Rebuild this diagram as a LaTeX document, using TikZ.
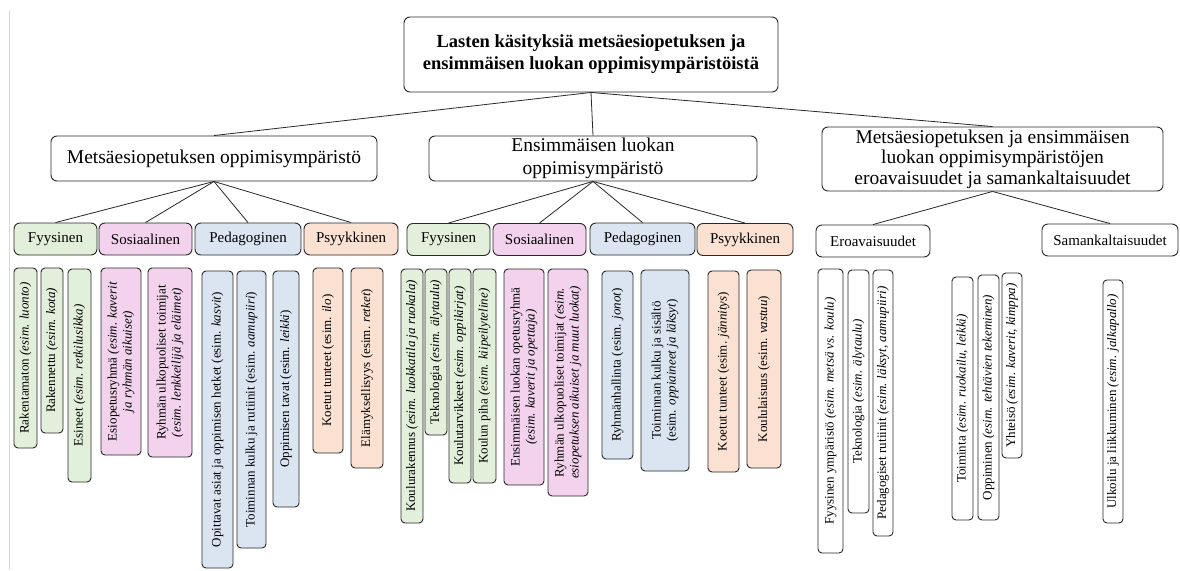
\documentclass[tikz,border=0pt]{standalone}
\usepackage{fontspec}
\setmainfont{Liberation Serif}
\definecolor{cgreen}{RGB}{226,239,218}
\definecolor{cpink}{RGB}{242,210,236}
\definecolor{cblue}{RGB}{219,229,242}
\definecolor{corange}{RGB}{251,225,210}
\definecolor{cline}{RGB}{40,40,40}
\tikzset{
  box/.style={draw=cline, rounded corners=6pt, line width=0.9pt, inner sep=1pt, fill=white},
  topbox/.style={box, minimum width=374pt, minimum height=75pt, align=center,
    font=\fontsize{18.5}{22}\selectfont\bfseries},
  lvl/.style={box, align=center, font=\fontsize{19.5}{22.5}\selectfont},
  cat/.style={box, minimum height=32pt, font=\fontsize{15}{16}\selectfont},
  vb/.style={box, rotate=90, rounded corners=4pt, align=center,
    font=\fontsize{13}{15}\selectfont},
  link/.style={draw=cline, line width=0.8pt},
}
\newcommand{\vbx}[7]{%
  \node[vb, fill=#2, minimum width={(#6-#5)*1pt}, minimum height={(#4-#3)*1pt}]
    (#1) at ({(#3+#4)/2},{(#5+#6)/2}) {#7};}
\newcommand{\catbox}[6]{%
  \node[cat, fill=#2, minimum width={(#4-#3)*1pt}] (#1) at ({(#3+#4)/2},#5) {#6};}
\begin{document}
\begin{tikzpicture}[x=1pt,y=-1pt]
\useasboundingbox[fill=white] (0,0) rectangle (1180,570);
\draw[black!15, line width=1pt] (9,10) -- (9,570);

% top
\node[topbox] (top) at (591,54.5) {Lasten käsityksiä metsäesiopetuksen ja\\ensimmäisen luokan oppimisympäristöistä};

% level 1
\node[lvl, minimum width=326pt, minimum height=45pt] (la) at (214,158.5) {Metsäesiopetuksen oppimisympäristö};
\node[lvl, minimum width=328pt, minimum height=45pt, inner sep=0pt] (lb) at (593,158.5) {Ensimmäisen luokan\\oppimisympäristö};
\node[lvl, minimum width=341pt, minimum height=64pt, inner sep=0pt, font=\fontsize{19.5}{20.5}\selectfont] (lc) at (992.5,159) {Metsäesiopetuksen ja ensimmäisen\\luokan oppimisympäristöjen\\eroavaisuudet ja samankaltaisuudet};

\draw[link] (top.south) -- (la.north);
\draw[link] (top.south) -- (lb.north);
\draw[link] (top.south) -- (lc.north);

% categories
\catbox{fa}{cgreen}{14}{97}{239}{Fyysinen}
\catbox{sa}{cpink}{99}{192}{239}{Sosiaalinen}
\catbox{pa}{cblue}{195}{301}{239}{Pedagoginen}
\catbox{ya}{corange}{304}{398}{239}{Psyykkinen}
\catbox{fb}{cgreen}{407}{490}{239.5}{Fyysinen}
\catbox{sb}{cpink}{493}{586}{239.5}{Sosiaalinen}
\catbox{pb}{cblue}{590}{695}{239}{Pedagoginen}
\catbox{yb}{corange}{697}{793}{239.5}{Psyykkinen}
\catbox{ero}{white}{816}{930}{241}{Eroavaisuudet}
\catbox{sam}{white}{1042}{1178}{240}{Samankaltaisuudet}

\foreach \n in {fa,sa,pa,ya} \draw[link] (la.south) -- (\n.north);
\foreach \n in {fb,sb,pb,yb} \draw[link] (lb.south) -- (\n.north);
\foreach \n in {ero,sam} \draw[link] (lc.south) -- (\n.north);

% vertical boxes
\vbx{a1}{cgreen}{14}{37}{268}{448}{Rakentamaton \textit{(esim. luonto)}}
\vbx{a2}{cgreen}{41}{63}{268}{433}{Rakennettu \textit{(esim. kota)}}
\vbx{a3}{cgreen}{68}{91}{269}{482}{Esineet \textit{(esim. retkilusikka)}}
\vbx{a4}{cpink}{101}{141}{268}{455}{Esiopetusryhmä \textit{(esim. kaverit}\\\textit{ja ryhmän aikuiset)}}
\vbx{a5}{cpink}{148}{192}{268}{457}{Ryhmän ulkopuoliset toimijat\\\textit{(esim. lenkkeilijä ja eläimet)}}
\vbx{a6}{cblue}{202}{233}{271}{568}{Opittavat asiat ja oppimisen hetket (esim. \textit{kasvit})}
\vbx{a7}{cblue}{237}{266}{271}{548}{Toiminnan kulku ja rutiinit (esim. \textit{aamupiiri})}
\vbx{a8}{cblue}{273}{299}{271}{507}{Oppimisen tavat (esim. \textit{leikki})}
\vbx{a9}{corange}{313}{343}{268}{453}{Koetut tunteet (esim. \textit{ilo})}
\vbx{a10}{corange}{351}{383}{268}{468}{Elämyksellisyys (esim. \textit{retket})}

\vbx{b1}{cgreen}{401}{423}{269}{523}{Koulurakennus \textit{(esim. luokkatila ja ruokala)}}
\vbx{b2}{cgreen}{425}{447}{269}{435}{Teknologia \textit{(esim. älytaulu)}}
\vbx{b3}{cgreen}{449}{471}{269}{483}{Koulutarvikkeet \textit{(esim. oppikirjat)}}
\vbx{b4}{cgreen}{473}{496}{269}{483}{Koulun piha \textit{(esim. kiipeilyteline)}}
\vbx{b5}{cpink}{504}{544}{269}{485}{Ensimmäisen luokan opetusryhmä\\\textit{(esim. kaverit ja opettaja)}}
\vbx{b6}{cpink}{548}{588}{269}{496}{Ryhmän ulkopuoliset toimijat \textit{(esim.}\\\textit{esiopetuksen aikuiset ja muut luokat)}}
\vbx{b7}{cblue}{602}{633}{271}{459}{Ryhmänhallinta (esim. \textit{jonot})}
\vbx{b8}{cblue}{641}{689}{270}{471}{Toiminnan kulku ja sisältö\\(esim. \textit{oppiaineet ja läksyt})}
\vbx{b9}{corange}{708}{739}{271}{472}{Koetut tunteet (esim. \textit{jännitys})}
\vbx{b10}{corange}{747}{781}{270}{468}{Koululaisuus (esim. \textit{vastuu})}

\vbx{c1}{white}{818}{843}{269}{553}{Fyysinen ympäristö \textit{(esim. metsä vs. koulu)}}
\vbx{c2}{white}{848}{869}{270}{513}{Teknologia \textit{(esim. älytaulu)}}
\vbx{c3}{white}{873}{893}{270}{536}{Pedagogiset rutiinit \textit{(esim. läksyt, aamupiiri)}}
\vbx{c4}{white}{952}{973}{277}{520}{Toiminta \textit{(esim. ruokailu, leikki)}}
\vbx{c5}{white}{978}{999}{275}{520}{Oppiminen \textit{(esim. tehtävien tekeminen)}}
\vbx{c6}{white}{1002}{1022}{273}{458}{Yhteisö \textit{(esim. kaverit, kimppa)}}
\vbx{d1}{white}{1103}{1123}{280}{523}{Ulkoilu ja liikkuminen \textit{(esim. jalkapallo)}}
\end{tikzpicture}
\end{document}
